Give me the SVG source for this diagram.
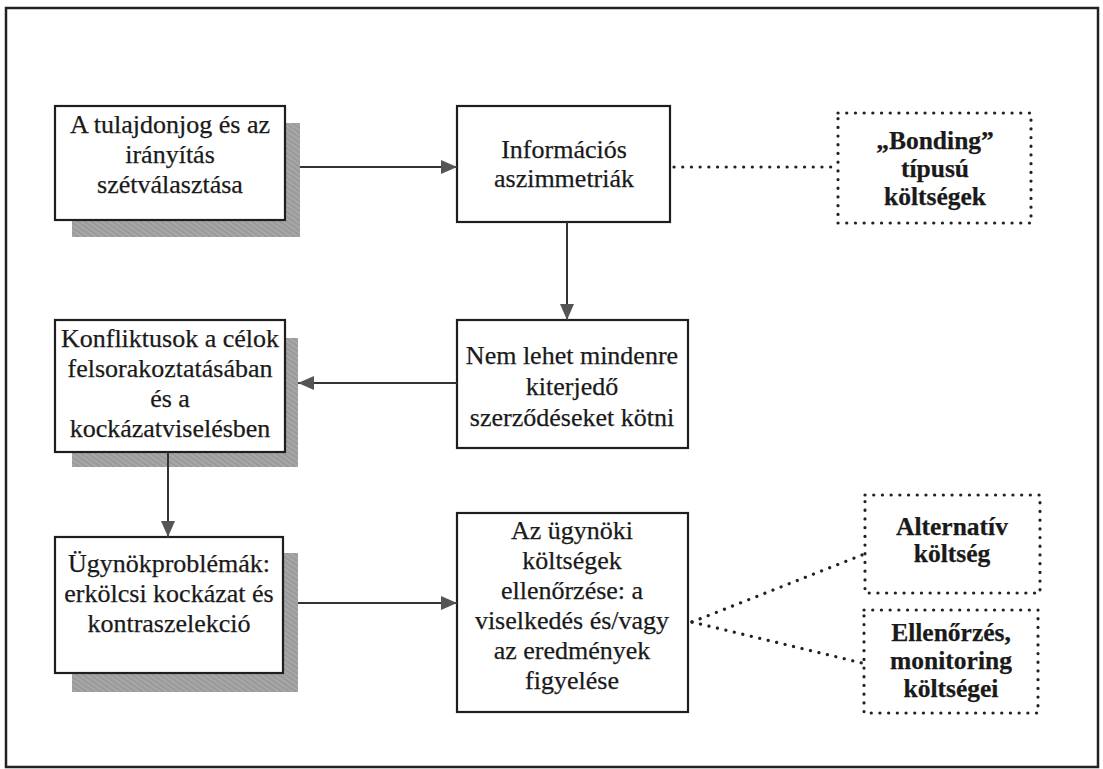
<svg xmlns="http://www.w3.org/2000/svg" width="1103" height="769" viewBox="0 0 1103 769">
  <defs>
    <pattern id="grain" width="4" height="4" patternUnits="userSpaceOnUse" patternTransform="rotate(35)">
      <rect width="4" height="4" fill="#a2a2a2"/>
      <line x1="0" y1="1" x2="4" y2="1" stroke="#929292" stroke-width="1"/>
      <line x1="0" y1="3" x2="4" y2="3" stroke="#b0b0b0" stroke-width="0.8"/>
    </pattern>
    <marker id="arrow" viewBox="0 0 16 14" refX="16" refY="7" markerWidth="16" markerHeight="14" markerUnits="userSpaceOnUse" orient="auto">
      <path d="M0,0 L16,7 L0,14 Z" fill="#555"/>
    </marker>
  </defs>
  <style>
    .frame { fill: #fff; stroke: #222; stroke-width: 2.5; }
    .shadow { fill: url(#grain); }
    .box { fill: #fff; stroke: #1e1e1e; stroke-width: 2.2; }
    .dotbox { fill: #fff; stroke: #222; stroke-width: 3.2; stroke-dasharray: 0.1 8.6; stroke-linecap: round; }
    .link { stroke: #333; stroke-width: 2; fill: none; }
    .dots { stroke: #222; stroke-width: 3.2; stroke-dasharray: 0.1 8.6; stroke-linecap: round; fill: none; }
    text { font-family: "Liberation Serif", "Times New Roman", serif; font-size: 26px; fill: #1a1a1a; stroke: #1a1a1a; stroke-width: 0.25; text-anchor: middle; }
    .bold { font-weight: bold; font-size: 25.5px; }
  </style>

  <rect class="frame" x="6" y="8" width="1092" height="759"/>

  <!-- left column, boxes with halftone shadow -->
  <g id="node-separation">
    <rect class="shadow" x="72" y="123" width="228" height="114"/>
    <rect class="box" x="55" y="106" width="230" height="114"/>
    <text x="170" y="133">A tulajdonjog és az</text>
    <text x="170" y="163">irányítás</text>
    <text x="170" y="193">szétválasztása</text>
  </g>

  <g id="node-conflicts">
    <rect class="shadow" x="72" y="338" width="226" height="129"/>
    <rect class="box" x="55" y="320" width="230" height="132"/>
    <text x="170" y="347">Konfliktusok a célok</text>
    <text x="170" y="377">felsorakoztatásában</text>
    <text x="170" y="407">és a</text>
    <text x="170" y="437">kockázatviselésben</text>
  </g>

  <g id="node-agency-problems">
    <rect class="shadow" x="72" y="553" width="226" height="139"/>
    <rect class="box" x="55" y="537" width="228" height="136"/>
    <text x="169" y="572">Ügynökproblémák:</text>
    <text x="169" y="602">erkölcsi kockázat és</text>
    <text x="169" y="632">kontraszelekció</text>
  </g>

  <!-- middle column -->
  <g id="node-asymmetry">
    <rect class="box" x="457" y="106" width="213" height="116"/>
    <text x="564" y="158">Információs</text>
    <text x="564" y="187">aszimmetriák</text>
  </g>

  <g id="node-contracts">
    <rect class="box" x="457" y="320" width="231" height="128"/>
    <text x="572" y="364">Nem lehet mindenre</text>
    <text x="572" y="395">kiterjedő</text>
    <text x="572" y="426">szerződéseket kötni</text>
  </g>

  <g id="node-control">
    <rect class="box" x="457" y="513" width="231" height="199"/>
    <text x="572" y="539">Az ügynöki</text>
    <text x="572" y="569">költségek</text>
    <text x="572" y="599">ellenőrzése: a</text>
    <text x="572" y="629">viselkedés és/vagy</text>
    <text x="572" y="659">az eredmények</text>
    <text x="572" y="689">figyelése</text>
  </g>

  <!-- right column, dotted cost boxes -->
  <g id="node-bonding">
    <rect class="dotbox" x="838" y="113" width="193" height="110"/>
    <text class="bold" x="935" y="149">„Bonding”</text>
    <text class="bold" x="935" y="177">típusú</text>
    <text class="bold" x="935" y="205">költségek</text>
  </g>

  <g id="node-alternative">
    <rect class="dotbox" x="865" y="495" width="175" height="98"/>
    <text class="bold" x="952" y="535">Alternatív</text>
    <text class="bold" x="952" y="562">költség</text>
  </g>

  <g id="node-monitoring">
    <rect class="dotbox" x="864" y="610" width="174" height="103"/>
    <text class="bold" x="951" y="641">Ellenőrzés,</text>
    <text class="bold" x="951" y="669">monitoring</text>
    <text class="bold" x="951" y="697">költségei</text>
  </g>

  <g id="connectors">
    <line class="link" x1="300" y1="167" x2="457" y2="167" marker-end="url(#arrow)"/>
    <line class="link" x1="567" y1="222" x2="567" y2="320" marker-end="url(#arrow)"/>
    <line class="link" x1="457" y1="383" x2="298" y2="383" marker-end="url(#arrow)"/>
    <line class="link" x1="168" y1="452" x2="168" y2="537" marker-end="url(#arrow)"/>
    <line class="link" x1="298" y1="603" x2="457" y2="603" marker-end="url(#arrow)"/>
    <line class="dots" x1="674" y1="167" x2="835" y2="167"/>
    <line class="dots" x1="692" y1="622" x2="862" y2="555"/>
    <line class="dots" x1="692" y1="622" x2="862" y2="663"/>
  </g>
</svg>
